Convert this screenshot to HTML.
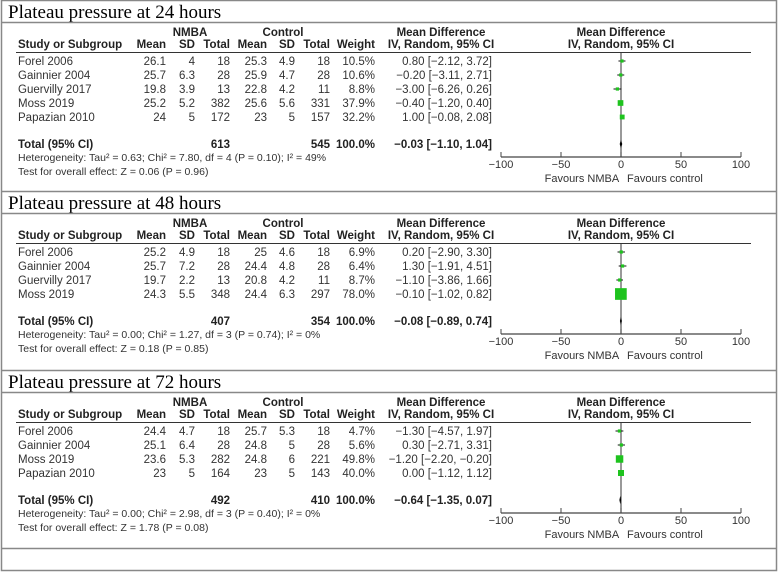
<!DOCTYPE html>
<html><head><meta charset="utf-8">
<style>
html,body{margin:0;padding:0;background:#fff;}
svg{display:block;}
.t{font-family:"Liberation Serif",serif;font-size:19px;fill:#000;}
.h{font-family:"Liberation Sans",sans-serif;font-size:11.5px;font-weight:bold;fill:#222;}
.d{font-family:"Liberation Sans",sans-serif;font-size:11.5px;fill:#333;}
.s{font-family:"Liberation Sans",sans-serif;font-size:10.5px;fill:#333;}
.k{font-family:"Liberation Sans",sans-serif;font-size:11px;fill:#333;}
.f{font-family:"Liberation Sans",sans-serif;font-size:11px;fill:#333;}
</style></head>
<body>
<svg id="chart" width="778" height="572" viewBox="0 0 778 572"></svg>
<script>
const panelTitles=["Plateau pressure at 24 hours","Plateau pressure at 48 hours","Plateau pressure at 72 hours"];
const panelOffsets=[0,191,370];
const studies1=["Forel 2006","Gainnier 2004","Guervilly 2017","Moss 2019","Papazian 2010"];
const nmbaMean1=["26.1","25.7","19.8","25.2","24"];const nmbaSD1=["4","6.3","3.9","5.2","5"];const nmbaN1=["18","28","13","382","172"];
const ctlMean1=["25.3","25.9","22.8","25.6","23"];const ctlSD1=["4.9","4.7","4.2","5.6","5"];const ctlN1=["18","28","11","331","157"];
const weight1=[10.5,10.6,8.8,37.9,32.2];
const md1=[0.80,-0.20,-3.00,-0.40,1.00];const lo1=[-2.12,-3.11,-6.26,-1.20,-0.08];const hi1=[3.72,2.71,0.26,0.40,2.08];
const total1=["613","545",-0.03,-1.10,1.04];
const het1=["Heterogeneity: Tau² = 0.63; Chi² = 7.80, df = 4 (P = 0.10); I² = 49%","Test for overall effect: Z = 0.06 (P = 0.96)"];

const studies2=["Forel 2006","Gainnier 2004","Guervilly 2017","Moss 2019"];
const nmbaMean2=["25.2","25.7","19.7","24.3"];const nmbaSD2=["4.9","7.2","2.2","5.5"];const nmbaN2=["18","28","13","348"];
const ctlMean2=["25","24.4","20.8","24.4"];const ctlSD2=["4.6","4.8","4.2","6.3"];const ctlN2=["18","28","11","297"];
const weight2=[6.9,6.4,8.7,78.0];
const md2=[0.20,1.30,-1.10,-0.10];const lo2=[-2.90,-1.91,-3.86,-1.02];const hi2=[3.30,4.51,1.66,0.82];
const total2=["407","354",-0.08,-0.89,0.74];
const het2=["Heterogeneity: Tau² = 0.00; Chi² = 1.27, df = 3 (P = 0.74); I² = 0%","Test for overall effect: Z = 0.18 (P = 0.85)"];

const studies3=["Forel 2006","Gainnier 2004","Moss 2019","Papazian 2010"];
const nmbaMean3=["24.4","25.1","23.6","23"];const nmbaSD3=["4.7","6.4","5.3","5"];const nmbaN3=["18","28","282","164"];
const ctlMean3=["25.7","24.8","24.8","23"];const ctlSD3=["5.3","5","6","5"];const ctlN3=["18","28","221","143"];
const weight3=[4.7,5.6,49.8,40.0];
const md3=[-1.30,0.30,-1.20,0.00];const lo3=[-4.57,-2.71,-2.20,-1.12];const hi3=[1.97,3.31,-0.20,1.12];
const total3=["492","410",-0.64,-1.35,0.07];
const het3=["Heterogeneity: Tau² = 0.00; Chi² = 2.98, df = 3 (P = 0.40); I² = 0%","Test for overall effect: Z = 1.78 (P = 0.08)"];
const axisTicks=[-100,-50,0,50,100];

const panels=[
 [studies1,nmbaMean1,nmbaSD1,nmbaN1,ctlMean1,ctlSD1,ctlN1,weight1,md1,lo1,hi1,total1,het1],
 [studies2,nmbaMean2,nmbaSD2,nmbaN2,ctlMean2,ctlSD2,ctlN2,weight2,md2,lo2,hi2,total2,het2],
 [studies3,nmbaMean3,nmbaSD3,nmbaN3,ctlMean3,ctlSD3,ctlN3,weight3,md3,lo3,hi3,total3,het3]];

const NS="http://www.w3.org/2000/svg";
const svg=document.getElementById('chart');
function el(tag,attrs,parent){const e=document.createElementNS(NS,tag);for(const k in attrs)e.setAttribute(k,attrs[k]);(parent||svg).appendChild(e);return e;}
function txt(s,x,y,cls,anchor,parent){const e=el('text',{x:x,y:y,class:cls,'text-anchor':anchor||'start'},parent);e.textContent=s;return e;}
function xs(v){return 621+v*1.2;}
function fmt(v){return (v<0?"\u2212":"")+Math.abs(v).toFixed(2);}

const frame=el('rect',{x:1.5,y:0.5,width:775,height:570,fill:'none',stroke:'#888','stroke-width':1.5});


const sep=el('line',{x1:1,y1:548.5,x2:777,y2:548.5,stroke:'#888','stroke-width':1.5});



panels.forEach((p,pi)=>{
 const [st,nm,nsd,nn,cm,csd,cn,w,md,lo,hi,tot,het]=p;
 const o=panelOffsets[pi];
 const g=el('g',{transform:'translate(0,'+o+')'});
 
 
 if(pi>0){const l=el('line',{x1:1,y1:0.5,x2:777,y2:0.5,stroke:'#888','stroke-width':1.5},g);}
 const t=txt(panelTitles[pi],8,18,'t','start',g);
 
 
 const tl=el('line',{x1:1,y1:22.5,x2:777,y2:22.5,stroke:'#888','stroke-width':1.5},g);
 
 
 const hg=el('g',{},g);
 
 
 txt('NMBA',190,36,'h','middle',hg);txt('Control',283,36,'h','middle',hg);
 txt('Mean Difference',441,36,'h','middle',hg);txt('Mean Difference',621,36,'h','middle',hg);
 txt('Study or Subgroup',18,48,'h','start',hg);
 txt('Mean',166,48,'h','end',hg);txt('SD',195,48,'h','end',hg);txt('Total',230,48,'h','end',hg);
 txt('Mean',267,48,'h','end',hg);txt('SD',295,48,'h','end',hg);txt('Total',330,48,'h','end',hg);
 txt('Weight',375,48,'h','end',hg);txt('IV, Random, 95% CI',441,48,'h','middle',hg);txt('IV, Random, 95% CI',621,48,'h','middle',hg);
 const hl=el('line',{x1:16,y1:52.5,x2:751,y2:52.5,stroke:'#333','stroke-width':1},g);
 
 
 const n=st.length;
 const axisY=157-(5-n)*14;
 const zl=el('line',{x1:xs(0),y1:53,x2:xs(0),y2:axisY,stroke:'#555','stroke-width':1.2},g);
 
 
 for(let i=0;i<n;i++){
  const y=65+i*14;
  const r=el('g',{},g);
  
  
  txt(st[i],18,y,'d','start',r);
  txt(nm[i],166,y,'d','end',r);txt(nsd[i],195,y,'d','end',r);txt(nn[i],230,y,'d','end',r);
  txt(cm[i],267,y,'d','end',r);txt(csd[i],295,y,'d','end',r);txt(cn[i],330,y,'d','end',r);
  txt(w[i].toFixed(1)+'%',375,y,'d','end',r);
  txt(fmt(md[i])+' ['+fmt(lo[i])+', '+fmt(hi[i])+']',492,y,'d','end',r);
  const cy=y-4;
  const ci=el('line',{x1:xs(lo[i]),y1:cy,x2:xs(hi[i]),y2:cy,stroke:'#111','stroke-width':1},g);
  
  
  const sz=Math.max(3.2,w[i]*0.15);
  const sq=el('rect',{x:xs(md[i])-sz/2,y:cy-sz/2,width:sz,height:sz,fill:'#1ec31e'},g);
  
  
 }
 const ty=148-(5-n)*14;
 const tg=el('g',{},g);
 
 
 txt('Total (95% CI)',18,ty,'h','start',tg);
 txt(tot[0],230,ty,'h','end',tg);txt(tot[1],330,ty,'h','end',tg);txt('100.0%',375,ty,'h','end',tg);
 txt(fmt(tot[2])+' ['+fmt(tot[3])+', '+fmt(tot[4])+']',492,ty,'h','end',tg);
 const dy=ty-4;
 const dm=el('polygon',{points:[xs(tot[3])+','+dy,xs(tot[2])+','+(dy-4),xs(tot[4])+','+dy,xs(tot[2])+','+(dy+4)].join(' '),fill:'#000'},g);
 
 
 const h1=txt(het[0],18,ty+13,'s','start',g);
 
 
 const h2=txt(het[1],18,ty+27,'s','start',g);
 
 
 const ax=el('g',{},g);
 
 
 el('line',{x1:xs(-100),y1:axisY,x2:xs(100),y2:axisY,stroke:'#444','stroke-width':1.2},ax);
 axisTicks.forEach(v=>{
  el('line',{x1:xs(v),y1:axisY-5,x2:xs(v),y2:axisY,stroke:'#444','stroke-width':1},ax);
  txt(v<0?'\u2212'+Math.abs(v):String(v),xs(v),axisY+11,'k','middle',ax);
 });
 const f1=txt('Favours NMBA',xs(-1.5),axisY+25,'f','end',ax);
 
 
 const f2=txt('Favours control',xs(5),axisY+25,'f','start',ax);
 
 
});
</script>
</body></html>
